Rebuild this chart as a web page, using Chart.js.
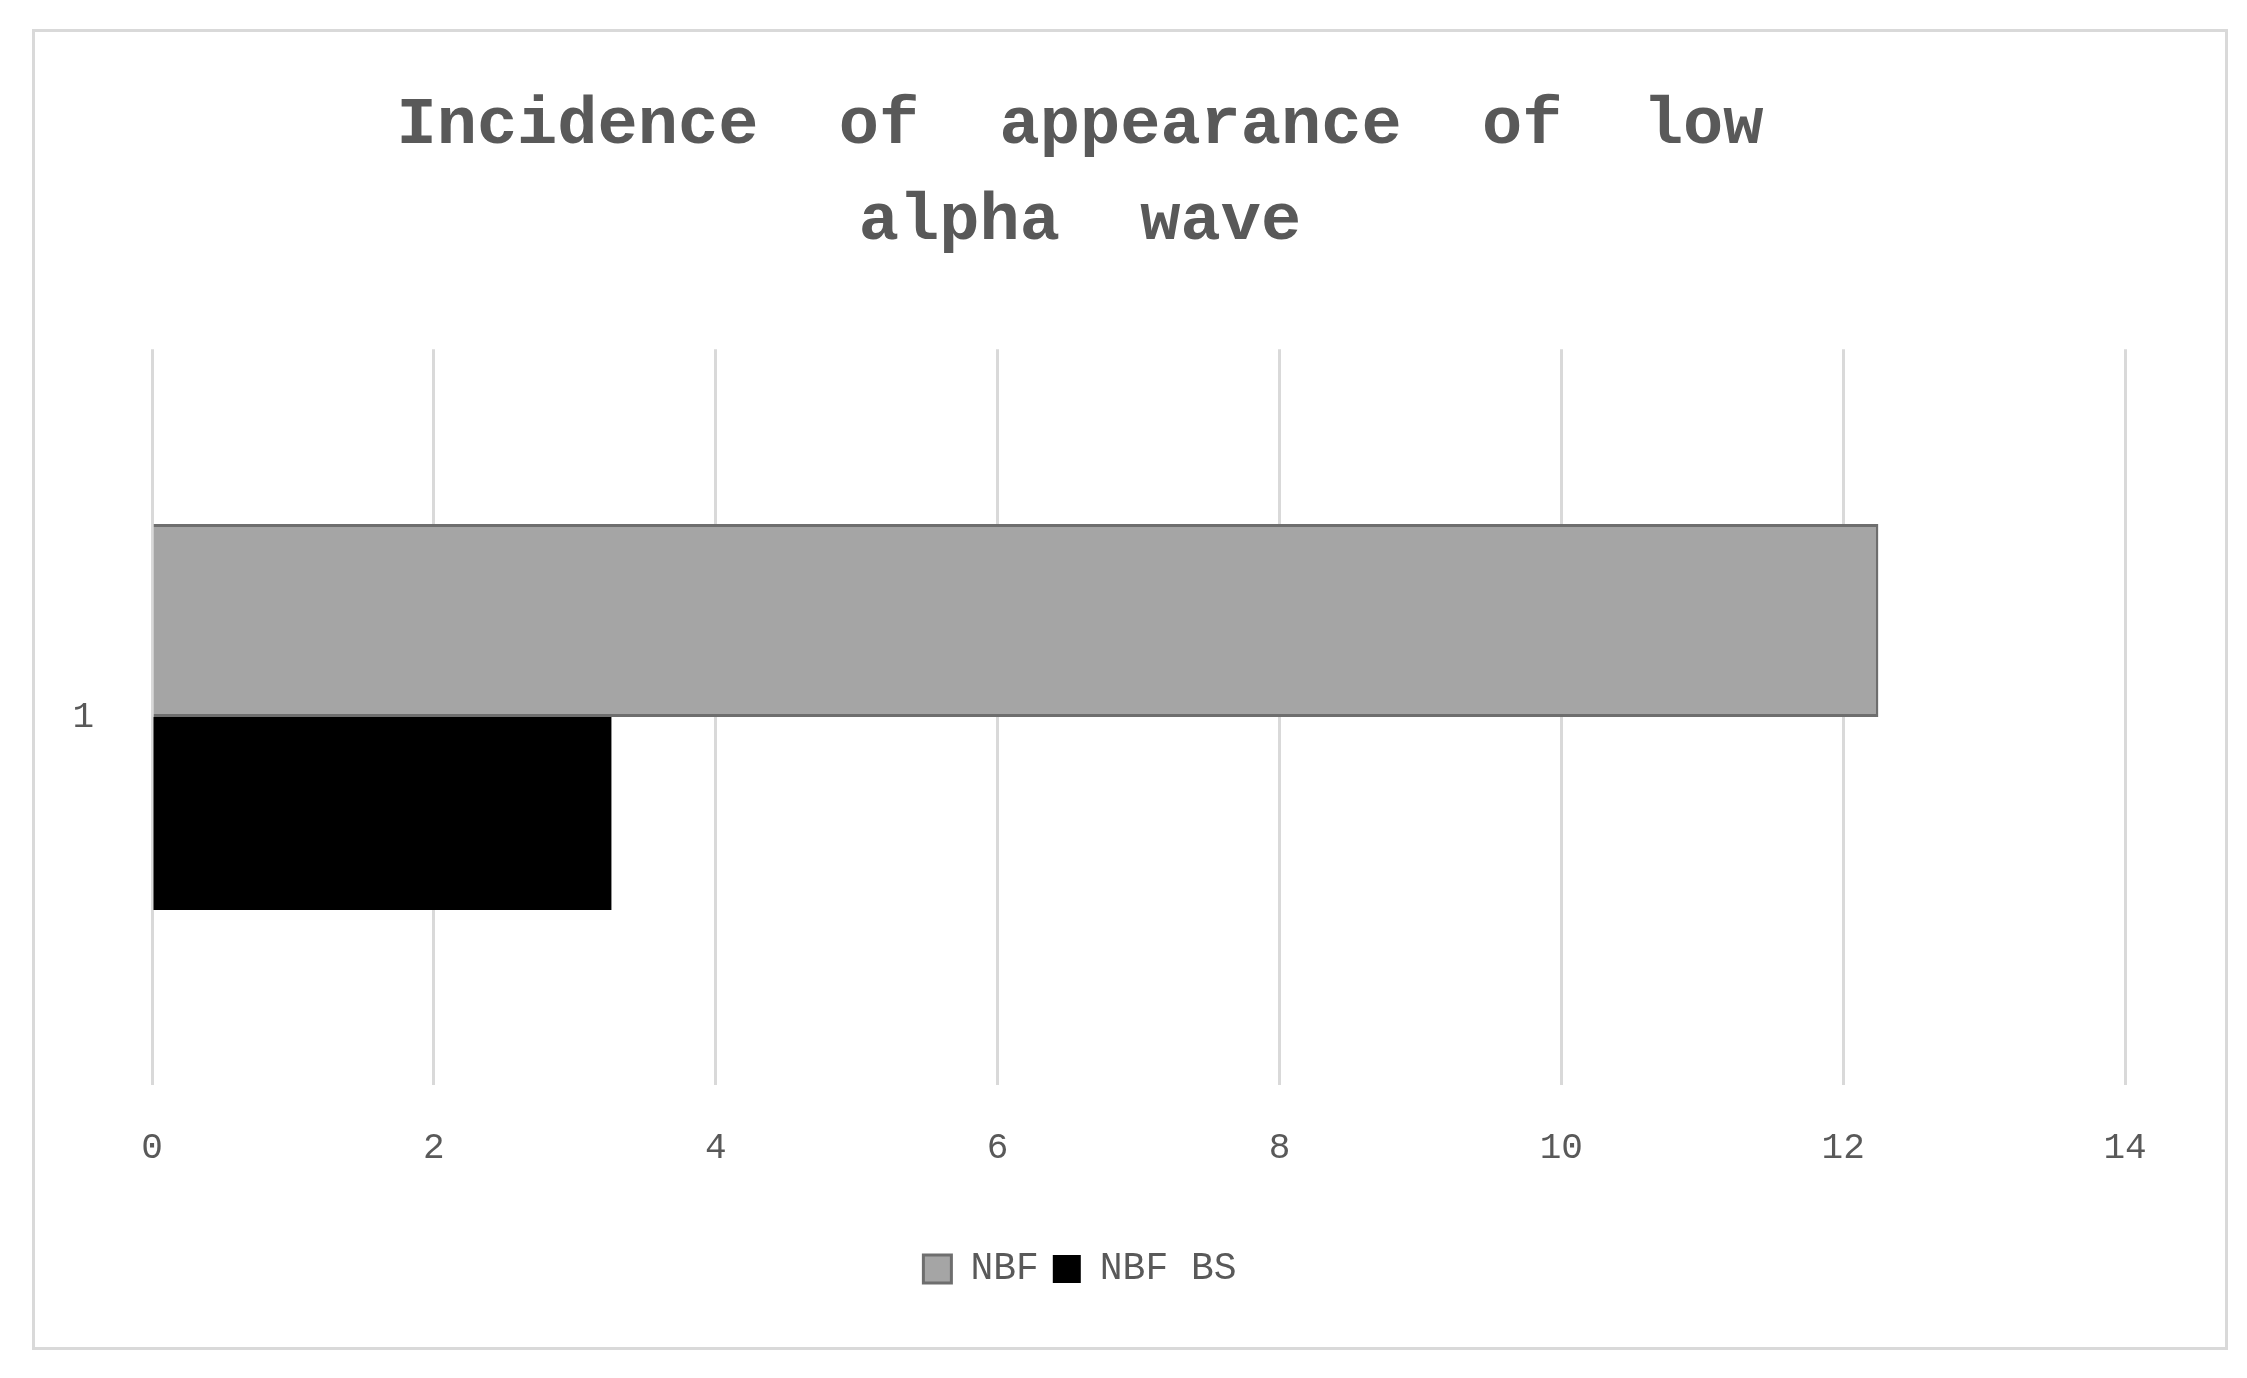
<!DOCTYPE html>
<html><head><meta charset="utf-8">
<script src="https://cdn.jsdelivr.net/npm/chart.js@4"></script>
<style>
body{margin:0;background:#fff;}
#box{position:absolute;left:32px;top:29px;width:2190px;height:1315px;border:3px solid #d9d9d9;background:#fff;}
</style></head><body>
<div id="box"><canvas id="c"></canvas></div>
<script>
const categories = ["1"];
const nbf = [12.25];
const nbfBs = [3.26];
const xTicks = [0,2,4,6,8,10,12,14];
const mono = "'Liberation Mono','Courier New',monospace";
new Chart(document.getElementById('c'), {
  type: 'bar',
  data: {
    labels: categories,
    datasets: [
      {label:'NBF', data:nbf, backgroundColor:'#a5a5a5', borderColor:'#6e6e6e', borderWidth:3},
      {label:'NBF BS', data:nbfBs, backgroundColor:'#000000', borderColor:'#000000', borderWidth:0}
    ]
  },
  options: {
    indexAxis:'y', responsive:true, maintainAspectRatio:false, animation:false,
    categoryPercentage:0.525, barPercentage:1,
    layout:{padding:{top:47,right:100,bottom:49,left:0}},
    plugins:{
      title:{display:true, text:['Incidence  of  appearance  of  low','alpha  wave'], color:'#595959',
        font:{family:mono,size:67,weight:'bold',lineHeight:1.42}, padding:{top:0,bottom:80}},
      legend:{position:'bottom', labels:{color:'#595959', font:{family:mono,size:38}, boxWidth:28, boxHeight:28, padding:14}},
      tooltip:{enabled:false}
    },
    scales:{
      x:{min:0,max:14, afterBuildTicks:a=>{a.ticks=xTicks.map(v=>({value:v}));},
        afterFit:a=>{a.height+=24;},
        grid:{color:'#d9d9d9',lineWidth:3,drawTicks:false}, border:{display:false},
        ticks:{color:'#595959',font:{family:mono,size:36},padding:42}},
      y:{grid:{display:false}, border:{display:false},
        afterFit:a=>{a.width=117;},
        ticks:{color:'#595959',font:{family:mono,size:36},padding:50}}
    }
  }
});
</script></body></html>
